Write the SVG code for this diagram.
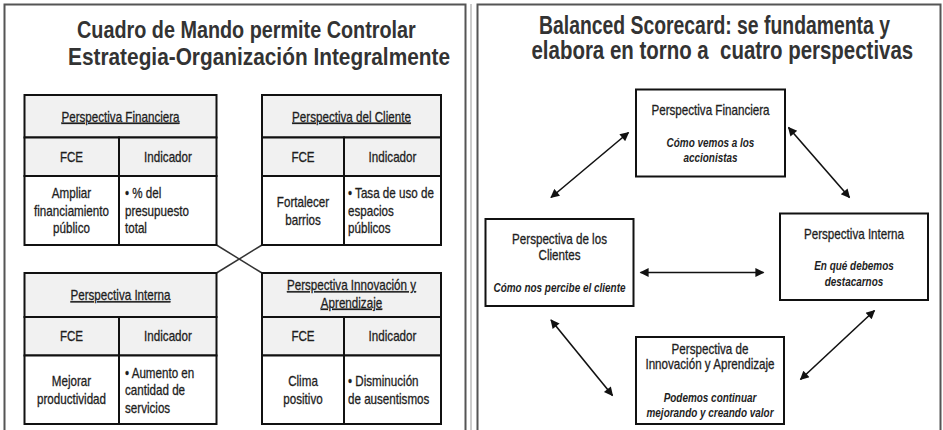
<svg xmlns="http://www.w3.org/2000/svg" width="943" height="430" viewBox="0 0 943 430">
<style>
.panel{fill:#fff;stroke:#555;stroke-width:2}
.title{font-family:"Liberation Sans",Arial,sans-serif;font-weight:bold;fill:#333}
.cell{stroke:#111;stroke-width:2}
.hd{fill:#f1f1f1}
.bd{fill:#fff}
.t{font-family:"Liberation Sans",Arial,sans-serif;font-size:14px;fill:#1e1e1e;stroke:#1e1e1e;stroke-width:0.3}
.m{text-anchor:middle}
.u{text-decoration:underline}
.it{font-family:"Liberation Sans",Arial,sans-serif;font-size:13px;font-style:italic;font-weight:bold;fill:#1e1e1e;text-anchor:middle}
.box{fill:#fff;stroke:#111;stroke-width:2}
.cx{stroke:#333;stroke-width:1.5;fill:none}
.ar{stroke:#111;stroke-width:1.6;fill:none;marker-start:url(#ah);marker-end:url(#ah)}
</style>
<defs>
<marker id="ah" viewBox="0 0 10 10" refX="9" refY="5" markerUnits="userSpaceOnUse" markerWidth="11" markerHeight="9" orient="auto-start-reverse">
<path d="M0,0 L10,5 L0,10 z" fill="#111"/>
</marker>
</defs>
<rect width="943" height="430" fill="#fff"/>
<rect class="panel" x="4.5" y="4.5" width="461" height="440"/>
<line x1="471" y1="4" x2="471" y2="430" stroke="#999" stroke-width="1"/>
<rect class="panel" x="477.5" y="4.5" width="463" height="440"/>

<g id="title-left">
<text class="title" font-size="23" transform="matrix(0.861 0 0 1 77 38)">Cuadro de Mando permite Controlar</text>
<text class="title" font-size="23" transform="matrix(0.906 0 0 1 68 65)">Estrategia-Organización Integralmente</text>
</g>
<g id="title-right">
<text class="title" font-size="25" transform="matrix(0.775 0 0 1 539 33.5)">Balanced Scorecard: se fundamenta y</text>
<text class="title" font-size="25" transform="matrix(0.818 0 0 1 531.5 58.5)">elabora en torno a &#160;cuatro perspectivas</text>
</g>

<g id="connectors-left">
<line class="cx" x1="216.5" y1="245" x2="262" y2="273"/>
<line class="cx" x1="262" y1="245" x2="216.5" y2="273"/>
</g>

<g id="t-financiera">
<rect class="cell hd" x="24.5" y="95" width="192" height="42.5"/>
<rect class="cell hd" x="24.5" y="137.5" width="94.5" height="38.5"/>
<rect class="cell hd" x="119" y="137.5" width="97.5" height="38.5"/>
<rect class="cell bd" x="24.5" y="176" width="94.5" height="69"/>
<rect class="cell bd" x="119" y="176" width="97.5" height="69"/>
<text class="t m u" transform="matrix(0.83 0 0 1 120.5 121.5)">Perspectiva Financiera</text>
<text class="t m" transform="matrix(0.83 0 0 1 71.5 162)">FCE</text>
<text class="t m" transform="matrix(0.83 0 0 1 168 162)">Indicador</text>
<text class="t m" transform="matrix(0.83 0 0 1 71.5 198)">Ampliar</text>
<text class="t m" transform="matrix(0.83 0 0 1 71.5 215.5)">financiamiento</text>
<text class="t m" transform="matrix(0.83 0 0 1 71.5 233)">público</text>
<text class="t" transform="matrix(0.83 0 0 1 125 198)">• % del</text>
<text class="t" transform="matrix(0.83 0 0 1 125 215.5)">presupuesto</text>
<text class="t" transform="matrix(0.83 0 0 1 125 233)">total</text>
</g>

<g id="t-cliente">
<rect class="cell hd" x="262" y="95" width="179" height="42.5"/>
<rect class="cell hd" x="262" y="137.5" width="82" height="38.5"/>
<rect class="cell hd" x="344" y="137.5" width="97" height="38.5"/>
<rect class="cell bd" x="262" y="176" width="82" height="69"/>
<rect class="cell bd" x="344" y="176" width="97" height="69"/>
<text class="t m u" transform="matrix(0.83 0 0 1 351.5 121.5)">Perspectiva del Cliente</text>
<text class="t m" transform="matrix(0.83 0 0 1 303 162)">FCE</text>
<text class="t m" transform="matrix(0.83 0 0 1 392.5 162)">Indicador</text>
<text class="t m" transform="matrix(0.83 0 0 1 303 207)">Fortalecer</text>
<text class="t m" transform="matrix(0.83 0 0 1 303 224.5)">barrios</text>
<text class="t" transform="matrix(0.83 0 0 1 348 198)">• Tasa de uso de</text>
<text class="t" transform="matrix(0.83 0 0 1 348 215.5)">espacios</text>
<text class="t" transform="matrix(0.83 0 0 1 348 233)">públicos</text>
</g>

<g id="t-interna">
<rect class="cell hd" x="24.5" y="273" width="192" height="44"/>
<rect class="cell hd" x="24.5" y="317" width="94.5" height="38.5"/>
<rect class="cell hd" x="119" y="317" width="97.5" height="38.5"/>
<rect class="cell bd" x="24.5" y="355.5" width="94.5" height="68.5"/>
<rect class="cell bd" x="119" y="355.5" width="97.5" height="68.5"/>
<text class="t m u" transform="matrix(0.83 0 0 1 120.5 300)">Perspectiva Interna</text>
<text class="t m" transform="matrix(0.83 0 0 1 71.5 341)">FCE</text>
<text class="t m" transform="matrix(0.83 0 0 1 168 341)">Indicador</text>
<text class="t m" transform="matrix(0.83 0 0 1 71.5 386)">Mejorar</text>
<text class="t m" transform="matrix(0.83 0 0 1 71.5 403.5)">productividad</text>
<text class="t" transform="matrix(0.83 0 0 1 125 377.5)">• Aumento en</text>
<text class="t" transform="matrix(0.83 0 0 1 125 395)">cantidad de</text>
<text class="t" transform="matrix(0.83 0 0 1 125 412.5)">servicios</text>
</g>

<g id="t-innovacion">
<rect class="cell hd" x="262" y="273" width="179" height="44"/>
<rect class="cell hd" x="262" y="317" width="82" height="38.5"/>
<rect class="cell hd" x="344" y="317" width="97" height="38.5"/>
<rect class="cell bd" x="262" y="355.5" width="82" height="68.5"/>
<rect class="cell bd" x="344" y="355.5" width="97" height="68.5"/>
<text class="t m u" transform="matrix(0.83 0 0 1 351.5 290)">Perspectiva Innovación y</text>
<text class="t m u" transform="matrix(0.83 0 0 1 351.5 307.5)">Aprendizaje</text>
<text class="t m" transform="matrix(0.83 0 0 1 303 341)">FCE</text>
<text class="t m" transform="matrix(0.83 0 0 1 392.5 341)">Indicador</text>
<text class="t m" transform="matrix(0.83 0 0 1 303 386)">Clima</text>
<text class="t m" transform="matrix(0.83 0 0 1 303 403.5)">positivo</text>
<text class="t" transform="matrix(0.83 0 0 1 348 386)">• Disminución</text>
<text class="t" transform="matrix(0.83 0 0 1 348 403.5)">de ausentismos</text>
</g>

<g id="n-financiera">
<rect class="box" x="636" y="89.5" width="149" height="87"/>
<text class="t m" transform="matrix(0.83 0 0 1 710.5 114.5)">Perspectiva Financiera</text>
<text class="it" transform="matrix(0.765 0 0 1 710.5 146.5)">Cómo vemos a los</text>
<text class="it" transform="matrix(0.765 0 0 1 710.5 161.5)">accionistas</text>
</g>
<g id="n-clientes">
<rect class="box" x="485.5" y="219" width="148" height="87"/>
<text class="t m" transform="matrix(0.83 0 0 1 559.5 243.5)">Perspectiva de los</text>
<text class="t m" transform="matrix(0.83 0 0 1 559.5 260)">Clientes</text>
<text class="it" transform="matrix(0.765 0 0 1 559.5 291.5)">Cómo nos percibe el cliente</text>
</g>
<g id="n-interna">
<rect class="box" x="780" y="213.5" width="148" height="86.5"/>
<text class="t m" transform="matrix(0.83 0 0 1 854 238.5)">Perspectiva Interna</text>
<text class="it" transform="matrix(0.765 0 0 1 854 269.5)">En qué debemos</text>
<text class="it" transform="matrix(0.765 0 0 1 854 286)">destacarnos</text>
</g>
<g id="n-innovacion">
<rect class="box" x="636" y="337" width="148" height="87"/>
<text class="t m" transform="matrix(0.83 0 0 1 710 353.5)">Perspectiva de</text>
<text class="t m" transform="matrix(0.83 0 0 1 710 368.5)">Innovación y Aprendizaje</text>
<text class="it" transform="matrix(0.765 0 0 1 710 401.5)">Podemos continuar</text>
<text class="it" transform="matrix(0.765 0 0 1 710 416.5)">mejorando y creando valor</text>
</g>

<g id="connectors-right">
<line class="ar" x1="551" y1="197.5" x2="628.5" y2="132.5"/>
<line class="ar" x1="788.5" y1="127.5" x2="849.5" y2="197.5"/>
<line class="ar" x1="640.5" y1="272.5" x2="763.5" y2="272.5"/>
<line class="ar" x1="551" y1="320" x2="612.5" y2="395.5"/>
<line class="ar" x1="874.5" y1="310.5" x2="800.5" y2="379.5"/>
</g>
</svg>
